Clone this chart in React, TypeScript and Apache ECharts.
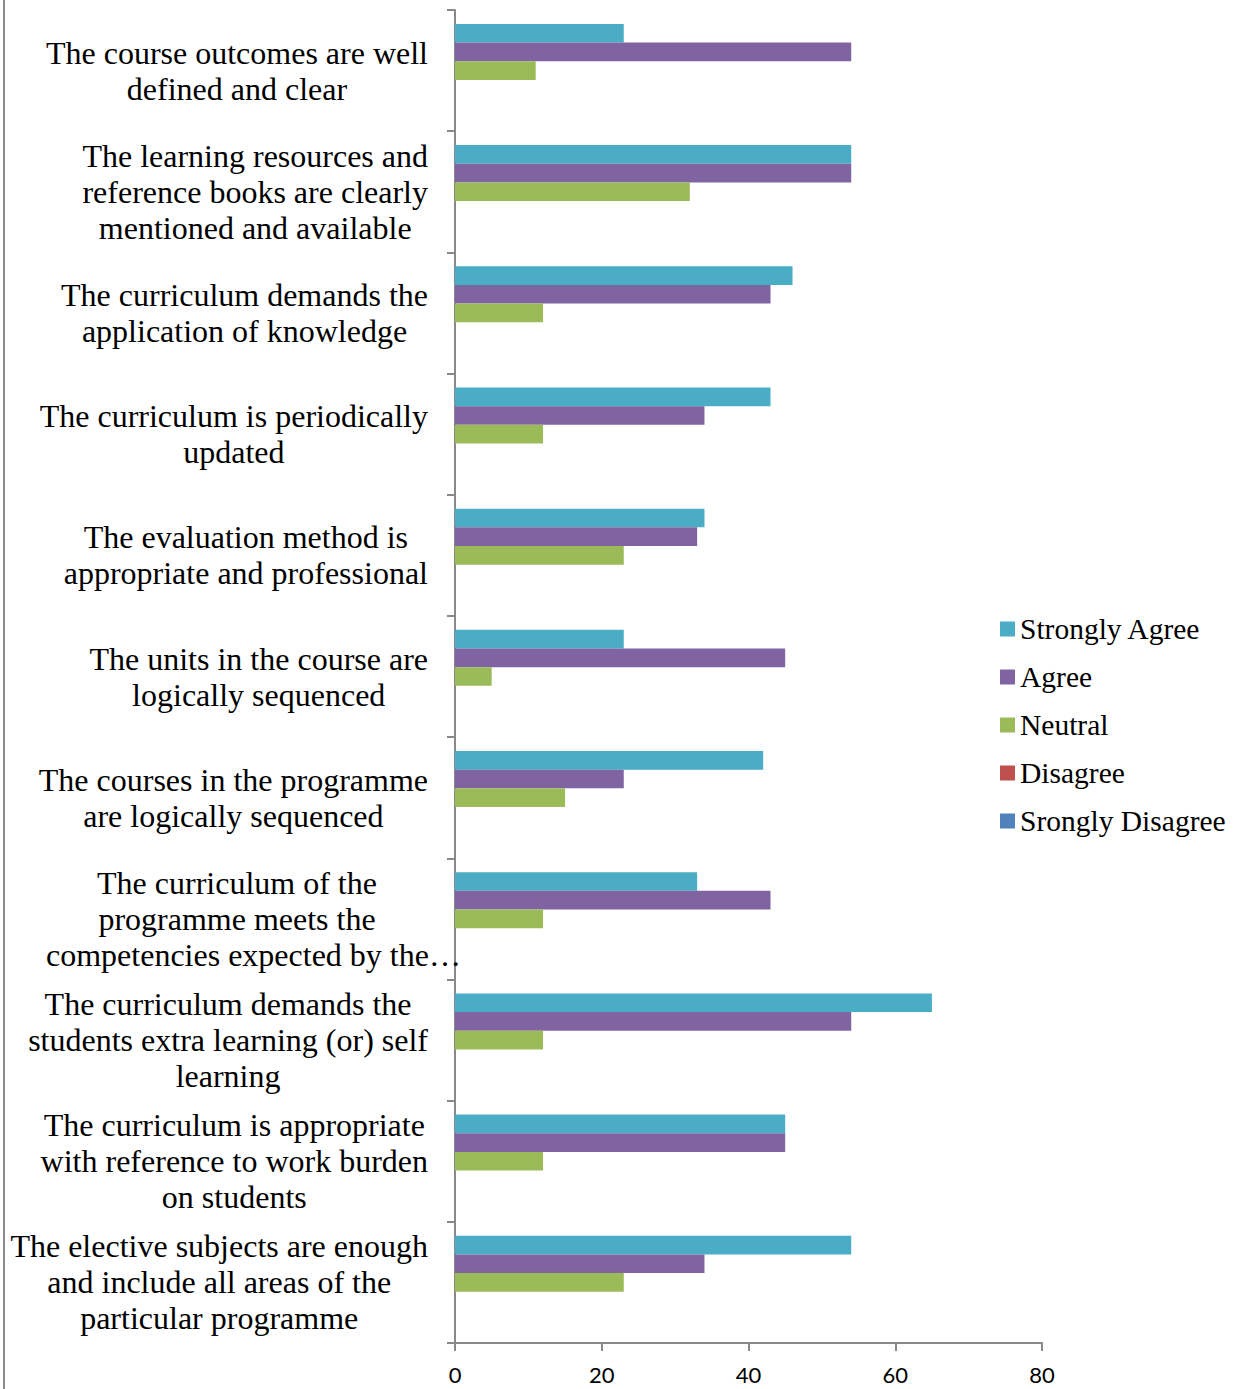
import React, { useEffect, useRef } from "react";
import * as echarts from "echarts";

const categories: string[] = [
  "The course outcomes are well\ndefined and clear",
  "The learning resources and\nreference books are clearly\nmentioned and available",
  "The curriculum demands the\napplication of knowledge",
  "The curriculum is periodically\nupdated",
  "The evaluation method is\nappropriate and professional",
  "The units in the course are\nlogically sequenced",
  "The courses in the programme\nare logically sequenced",
  "The curriculum of the\nprogramme meets the\ncompetencies expected by the…",
  "The curriculum demands the\nstudents extra learning (or) self\nlearning",
  "The curriculum is appropriate\nwith reference to work burden\non students",
  "The elective subjects are enough\nand include all areas of the\nparticular programme",
];

const seriesNames: string[] = ["Strongly Agree", "Agree", "Neutral", "Disagree", "Srongly Disagree"];
const seriesColors: string[] = ["#4BACC6", "#8064A2", "#9BBB59", "#C0504D", "#4F81BD"];

const stronglyAgree: number[] = [23, 54, 46, 43, 34, 23, 42, 33, 65, 45, 54];
const agree: number[] = [54, 54, 43, 34, 33, 45, 23, 43, 54, 45, 34];
const neutral: number[] = [11, 32, 12, 12, 23, 5, 15, 12, 12, 12, 23];
const disagree: number[] = [0, 0, 0, 0, 0, 0, 0, 0, 0, 0, 0];
const stronglyDisagree: number[] = [0, 0, 0, 0, 0, 0, 0, 0, 0, 0, 0];

const xMin = 0;
const xMax = 80;
const xInterval = 20;

const SERIF = "'Liberation Serif', 'Times New Roman', serif";
const AXIS_COLOR = "#898989";
const LABEL_SIZE = 32;

export default function App() {
  const ref = useRef<HTMLDivElement | null>(null);

  useEffect(() => {
    if (!ref.current) return;
    const chart = echarts.init(ref.current, undefined, { renderer: "svg" });
    const allData = [stronglyAgree, agree, neutral, disagree, stronglyDisagree];

    const option: any = {
      animation: false,
      backgroundColor: "#ffffff",
      textStyle: { fontFamily: SERIF },
      grid: {
        left: 455,
        right: 195,
        top: 10,
        bottom: 46,
        containLabel: false,
        outerBoundsMode: "none",
      },
      legend: {
        orient: "vertical",
        left: 995,
        top: 609,
        icon: "rect",
        itemWidth: 15,
        itemHeight: 15,
        itemGap: 18,
        data: seriesNames,
        textStyle: {
          fontFamily: SERIF,
          fontSize: 29.5,
          lineHeight: 30,
          color: "#000000",
        },
      },
      xAxis: {
        type: "value",
        min: xMin,
        max: xMax,
        interval: xInterval,
        splitLine: { show: false },
        axisLine: { show: true, lineStyle: { color: AXIS_COLOR, width: 2 } },
        axisTick: { show: true, length: 8, lineStyle: { color: AXIS_COLOR, width: 2 } },
        axisLabel: {
          fontFamily: "Lato, 'Open Sans', sans-serif",
          fontSize: 22,
          lineHeight: 20,
          color: "#000000",
          margin: 21,
        },
      },
      yAxis: {
        type: "category",
        inverse: true,
        data: categories,
        axisLine: { show: true, lineStyle: { color: AXIS_COLOR, width: 2 } },
        axisTick: { show: true, length: 8, lineStyle: { color: AXIS_COLOR, width: 2 } },
        axisLabel: {
          interval: 0,
          margin: 27,
          color: "#000000",
          fontFamily: SERIF,
          fontSize: LABEL_SIZE,
          lineHeight: 36,
          formatter: (value: string) =>
            value
              .split("\n")
              .map((line) => (line.endsWith("…") ? `{e|${line}}` : `{c|${line}}`))
              .join("\n"),
          rich: {
            c: {
              align: "center",
              fontFamily: SERIF,
              fontSize: LABEL_SIZE,
              lineHeight: 36,
              color: "#000000",
            },
            e: {
              align: "left",
              width: 382,
              fontFamily: SERIF,
              fontSize: LABEL_SIZE,
              lineHeight: 36,
              color: "#000000",
            },
          },
        },
      },
      graphic: [
        {
          type: "line",
          shape: { x1: 4, y1: 0, x2: 4, y2: 1389 },
          style: { stroke: "#8c8c8c", lineWidth: 2 },
          silent: true,
        },
      ],
      series: seriesNames.map((name, i) => ({
        name,
        type: "bar",
        data: allData[i],
        barGap: "0%",
        barCategoryGap: "23%",
        itemStyle: { color: seriesColors[i] },
      })),
    };

    chart.setOption(option);
    return () => chart.dispose();
  }, []);

  return (
    <div
      ref={ref}
      style={{ position: "absolute", left: 0, top: 0, width: 1237, height: 1389 }}
    />
  );
}
